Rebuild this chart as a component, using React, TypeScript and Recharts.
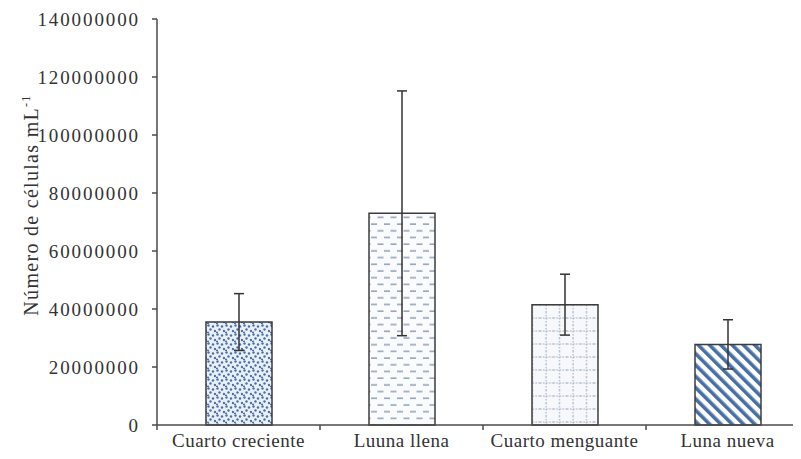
import { Bar, BarChart, Cell, ErrorBar, XAxis, YAxis } from "recharts";

const phases = ["Cuarto creciente", "Luuna llena", "Cuarto menguante", "Luna nueva"];
const cellCounts = [35500000, 73000000, 41500000, 27800000];
const cellErrors = [9800000, 42200000, 10500000, 8500000];
const yTicks = [0, 20000000, 40000000, 60000000, 80000000, 100000000, 120000000, 140000000];
const fills = ["url(#dots)", "url(#dashes)", "url(#grid)", "url(#stripes)"];

const chartData = phases.map((phase, i) => ({
  phase,
  count: cellCounts[i],
  err: cellErrors[i],
}));

const axisColor = "#4a4a4a";
const textColor = "#333333";
const font = "'Liberation Serif', 'Times New Roman', serif";

const PhaseTick = (props: any) => {
  const { x, y, payload, index } = props;
  const half = payload?.offset || 81.5;
  return (
    <g>
      <line x1={x - half} y1={y} x2={x - half} y2={y + 5} stroke={axisColor} strokeWidth={1.5} />
      {index === phases.length - 1 && (
        <line x1={x + half} y1={y} x2={x + half} y2={y + 5} stroke={axisColor} strokeWidth={1.5} />
      )}
      <text
        x={x}
        y={y + 9}
        dy="0.71em"
        textAnchor="middle"
        fontSize={19}
        fontFamily={font}
        fill={textColor}
        letterSpacing={0.5}
      >
        {payload.value}
      </text>
    </g>
  );
};

const YLabel = (props: any) => {
  const vb = props.viewBox || { x: 0, y: 19, width: 157, height: 406 };
  const cx = vb.x + 38;
  const cy = vb.y + vb.height / 2 - 17;
  return (
    <text
      x={cx}
      y={cy}
      transform={`rotate(-90, ${cx}, ${cy})`}
      textAnchor="middle"
      fontSize={20}
      fontFamily={font}
      fill={textColor}
      letterSpacing={1.3}
    >
      Número de células mL
      <tspan dy={-8} fontSize={12}>-1</tspan>
    </text>
  );
};

export default function App() {
  return (
    <div style={{ margin: -8, width: 801, height: 459, overflow: "hidden", background: "#fff" }}>
      <BarChart
        width={830}
        height={459}
        data={chartData}
        margin={{ top: 19, right: 21, left: 0, bottom: 0 }}
      >
        <defs>
          <pattern id="dots" width="9" height="9" patternUnits="userSpaceOnUse">
            <rect width="9" height="9" fill="#e9eff8" />
            <circle cx="1.5" cy="1.5" r="1.2" fill="#4a70a3" />
            <circle cx="6" cy="2.5" r="1.2" fill="#4a70a3" />
            <circle cx="3.5" cy="5.5" r="1.2" fill="#4a70a3" />
            <circle cx="8" cy="7" r="1.2" fill="#4a70a3" />
            <circle cx="1" cy="8.5" r="1.05" fill="#4a70a3" />
          </pattern>
          <pattern id="dashes" width="13" height="13.4" patternUnits="userSpaceOnUse">
            <rect width="13" height="13.4" fill="#f9fbfd" />
            <line x1="0.5" y1="3" x2="6.5" y2="3" stroke="#7d92ae" strokeWidth="1.3" />
            <line x1="7" y1="9.7" x2="13" y2="9.7" stroke="#7d92ae" strokeWidth="1.3" />
          </pattern>
          <pattern id="grid" width="13.5" height="13" patternUnits="userSpaceOnUse">
            <rect width="13.5" height="13" fill="#f6f8fc" />
            <line x1="6" y1="0" x2="6" y2="13" stroke="#8d9ab0" strokeWidth="0.9" strokeDasharray="1.5 1.5" />
            <line x1="0" y1="6" x2="13.5" y2="6" stroke="#8d9ab0" strokeWidth="0.9" strokeDasharray="1.5 1.5" />
          </pattern>
          <pattern
            id="stripes"
            width="8"
            height="8"
            patternUnits="userSpaceOnUse"
            patternTransform="rotate(-45)"
          >
            <rect width="8" height="8" fill="#ffffff" />
            <rect width="3.6" height="8" fill="#4670a5" />
          </pattern>
        </defs>
        <XAxis
          dataKey="phase"
          axisLine={{ stroke: axisColor, strokeWidth: 1.5 }}
          tickLine={false}
          tickSize={0}
          tickMargin={0}
          interval={0}
          height={34}
          tick={<PhaseTick />}
        />
        <YAxis
          width={157}
          domain={[0, 140000000]}
          ticks={yTicks}
          interval={0}
          axisLine={{ stroke: axisColor, strokeWidth: 1.5 }}
          tickLine={{ stroke: axisColor, strokeWidth: 1.5 }}
          tickSize={5}
          tickMargin={12}
          tick={{ fontSize: 19, fontFamily: font, fill: textColor, letterSpacing: 1.9 }}
          label={{ content: <YLabel /> }}
        />
        <Bar dataKey="count" barSize={66} stroke="#3c3c3c" strokeWidth={1.5} isAnimationActive={false}>
          {chartData.map((d, i) => (
            <Cell key={d.phase} fill={fills[i]} />
          ))}
          <ErrorBar dataKey="err" width={5} stroke="#333333" strokeWidth={1.5} direction="y" />
        </Bar>
      </BarChart>
    </div>
  );
}
